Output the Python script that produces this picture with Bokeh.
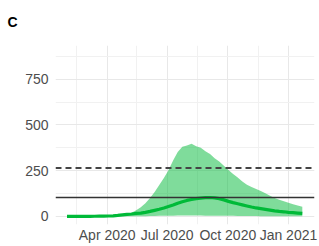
import pandas as pd
from bokeh.plotting import figure
from bokeh.models import ColumnDataSource, Span, FixedTicker, DatetimeTickFormatter, Range1d
from bokeh.embed import file_html
from bokeh.resources import INLINE

# ---- data ----
dates = pd.date_range("2020-01-31", "2021-01-22", freq="7D")

upper = [0, 0, 0, 0, 0, 0, 0, 0.5, 1, 1, 1.5,
         3, 7, 12, 20, 33, 50, 72, 100, 133, 172, 210, 252, 305, 352,
         380, 388, 397, 383, 375, 356, 341, 318, 300, 276, 253, 232, 212,
         190, 173, 160, 149, 138, 126, 113, 101, 91, 82, 74, 66, 59, 52]

lower = [0, 0, 0, 0, 0, 0, 0, 0, 0, 0, 0,
         0, 0, 0.5, 0.5, 1, 1, 1, 2, 2, 3, 3, 4, 4, 5,
         5, 5, 5, 5, 5, 4, 4, 4, 3, 3, 3, 3, 2,
         2, 2, 2, 2, 1, 1, 1, 1, 1, 1, 1, 0.5, 0.5, 0.5]

estimate = [0, 0, 0, 0, 0, 0, 0.5, 1, 1.5, 2, 3,
            5, 8, 11, 13, 16, 18, 22, 27, 33, 39, 46, 54, 62, 72,
            80, 87, 92, 97, 100, 102, 103, 101, 97, 90, 82, 75, 69,
            63, 57, 51, 46, 42, 38, 34, 30, 27, 25, 22, 20, 18, 16]

solid_ref = 103
dashed_ref = 265

y_ticks = [0, 250, 500, 750]
y_minor = [125, 375, 625, 875]
x_tick_dates = ["2020-04-01", "2020-07-01", "2020-10-01", "2021-01-01"]
x_minor_dates = ["2020-02-15", "2020-05-16", "2020-08-16", "2020-11-16"]
x_start, x_end = "2020-01-13 14:00", "2021-02-09 12:00"
y_start, y_end = -44.5, 934


def ms(s):
    return (pd.Timestamp(s) - pd.Timestamp("1970-01-01")) // pd.Timedelta(milliseconds=1)


src = ColumnDataSource(dict(date=dates, upper=upper, lower=lower, est=estimate))

p = figure(width=319, height=246, x_axis_type="datetime",
           output_backend="svg", toolbar_location=None,
           x_range=Range1d(pd.Timestamp(x_start), pd.Timestamp(x_end)),
           y_range=Range1d(y_start, y_end),
           min_border_left=55, min_border_right=5,
           min_border_top=43, min_border_bottom=22)
p.outline_line_color = None
p.background_fill_color = "white"
p.border_fill_color = "white"

p.varea(x="date", y1="lower", y2="upper", source=src,
        fill_color="#00BA38", fill_alpha=0.5)
p.line(x="date", y="est", source=src, line_color="#00BA38", line_width=3.2)

p.add_layout(Span(location=solid_ref, dimension="width",
                  line_color="#333333", line_width=1.5))
p.add_layout(Span(location=dashed_ref, dimension="width",
                  line_color="#444444", line_width=2, line_dash="6 4"))

# axes
p.xaxis.ticker = FixedTicker(ticks=[ms(d) for d in x_tick_dates],
                             minor_ticks=[ms(d) for d in x_minor_dates])
fmt = "%b %Y"
p.xaxis.formatter = DatetimeTickFormatter(
    microseconds=fmt, milliseconds=fmt, seconds=fmt, minsec=fmt,
    minutes=fmt, hourmin=fmt, hours=fmt, days=fmt, months=fmt, years=fmt)
p.yaxis.ticker = FixedTicker(ticks=y_ticks, minor_ticks=y_minor)

for ax in (p.xaxis, p.yaxis):
    ax.axis_line_color = None
    ax.major_tick_line_color = None
    ax.minor_tick_line_color = None
    ax.major_tick_out = 0
    ax.minor_tick_out = 0
    ax.major_label_text_font = "Liberation Sans"
    ax.major_label_text_font_size = "14px"
    ax.major_label_text_color = "#4D4D4D"
p.yaxis.major_label_standoff = 7
p.xaxis.major_label_standoff = 2

for g in (p.xgrid, p.ygrid):
    g.grid_line_color = "#E8E8E8"
    g.grid_line_width = 1
    g.minor_grid_line_color = "#F1F1F1"
    g.minor_grid_line_width = 1

p.title.text = "C"
p.title.text_font = "Liberation Sans"
p.title.text_font_size = "14px"
p.title.text_font_style = "bold"
p.title.text_color = "black"
p.title.align = "left"
p.title.vertical_align = "top"
p.title.offset = -48
p.title.standoff = 27

open("out.html", "w").write(file_html(p, INLINE))
